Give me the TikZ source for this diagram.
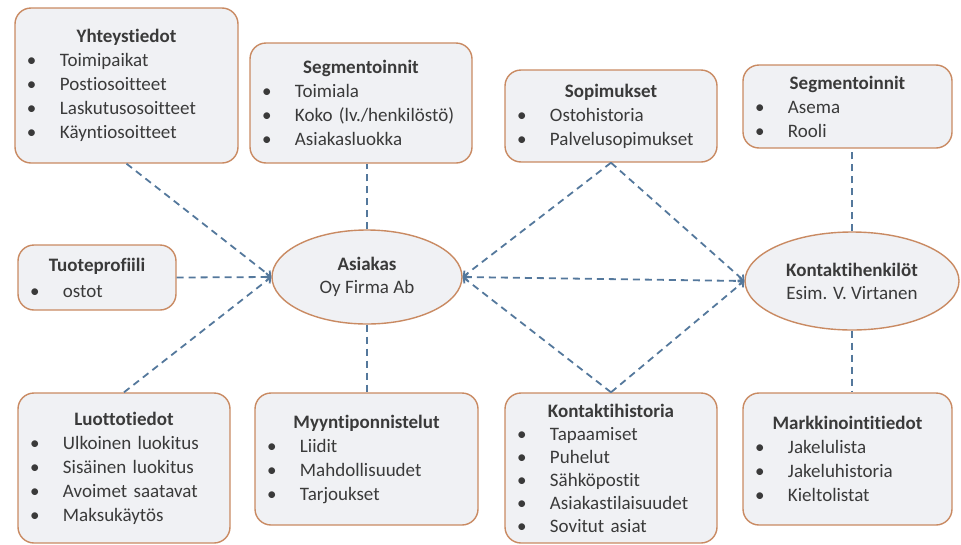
\documentclass[tikz,border=0pt]{standalone}
\usepackage{fontspec}
\setmainfont{Carlito}[Ligatures={NoCommon}]
\usetikzlibrary{shapes.geometric,arrows.meta}
\definecolor{boxfill}{HTML}{F0F1F4}
\definecolor{boxline}{HTML}{C98A62}
\definecolor{txt}{HTML}{3A3A3A}
\definecolor{conn}{HTML}{54789C}
\newcommand\btitle[1]{{\centering\bfseries #1\par}}
\newcommand\bitem[1]{\noindent\makebox[33pt][l]{\textbullet}#1\par}
\begin{document}
\begin{tikzpicture}[x=1pt,y=-1pt,
  infobox/.style={draw=boxline, fill=boxfill, rounded corners=16pt, line width=1.4pt,
    inner xsep=12pt, inner ysep=1pt, text=txt, font=\fontsize{19}{24}\selectfont},
  oval/.style={ellipse, draw=boxline, fill=boxfill, line width=1.4pt, inner sep=0pt,
    text=txt, align=center, font=\fontsize{19}{23}\selectfont},
  link/.style={draw=conn, line width=1.8pt, dash pattern=on 7pt off 5pt},
  tip/.style={-{Straight Barb[length=4pt,width=8pt]}}
]
\useasboundingbox (0,0) rectangle (961,544);

\node[infobox, text width=199pt, minimum height=155pt] (yht) at (126.5,85.5)
  {\btitle{Yhteystiedot}\bitem{Toimipaikat}\bitem{Postiosoitteet}\bitem{Laskutusosoitteet}\bitem{Käyntiosoitteet}};
\node[infobox, text width=198pt, minimum height=120pt] (seg) at (361,103)
  {\btitle{Segmentoinnit}\bitem{Toimiala}\bitem{Koko (lv./henkilöstö)}\bitem{Asiakasluokka}};
\node[infobox, text width=188pt, minimum height=92pt] (sop) at (611,116)
  {\btitle{Sopimukset}\bitem{Ostohistoria}\bitem{Palvelusopimukset}};
\node[infobox, text width=185pt, minimum height=83pt] (segb) at (847.5,106.5)
  {\btitle{Segmentoinnit}\bitem{Asema}\bitem{Rooli}};
\node[infobox, text width=134pt, minimum height=65pt, font=\fontsize{19}{26}\selectfont] (tuo) at (97,277.5)
  {\btitle{Tuoteprofiili}\bitem{ostot}};
\node[infobox, text width=188pt, minimum height=150pt] (luo) at (124,468)
  {\btitle{Luottotiedot}\bitem{Ulkoinen luokitus}\bitem{Sisäinen luokitus}\bitem{Avoimet saatavat}\bitem{Maksukäytös}};
\node[infobox, text width=199pt, minimum height=132pt] (myy) at (366.5,459)
  {\btitle{Myyntiponnistelut}\bitem{Liidit}\bitem{Mahdollisuudet}\bitem{Tarjoukset}};
\node[infobox, text width=188pt, minimum height=150pt, font=\fontsize{19}{23}\selectfont] (khi) at (611,468)
  {\btitle{Kontaktihistoria}\bitem{Tapaamiset}\bitem{Puhelut}\bitem{Sähköpostit}\bitem{Asiakastilaisuudet}\bitem{Sovitut asiat}};
\node[infobox, text width=185pt, minimum height=132pt] (mar) at (847.5,459)
  {\btitle{Markkinointitiedot}\bitem{Jakelulista}\bitem{Jakeluhistoria}\bitem{Kieltolistat}};

\node[oval, minimum width=190pt, minimum height=94pt] (asi) at (367,277)
  {\textbf{Asiakas}\\Oy Firma Ab};
\node[oval, minimum width=214pt, minimum height=98pt] (kon) at (852,281)
  {\textbf{Kontaktihenkilöt}\\Esim. V. Virtanen};

\draw[link,tip] (yht.south) -- (asi.west);
\draw[link,tip] (tuo.east) -- (asi.west);
\draw[link,tip] (luo.north) -- (asi.west);
\draw[link] (asi.north) -- (asi.north |- seg.south);
\draw[link] (asi.south) -- (asi.south |- myy.north);
\draw[link,tip] (sop.south) -- (asi.east);
\draw[link,tip] (khi.north) -- (asi.east);
\draw[link,tip] (sop.south) -- (kon.west);
\draw[link,tip] (khi.north) -- (kon.west);
\draw[link,{Straight Barb[length=4pt,width=8pt]}-{Straight Barb[length=4pt,width=8pt]}] (asi.east) -- (kon.west);
\draw[link] (kon.north) -- (kon.north |- segb.south);
\draw[link] (kon.south) -- (kon.south |- mar.north);
\end{tikzpicture}
\end{document}
